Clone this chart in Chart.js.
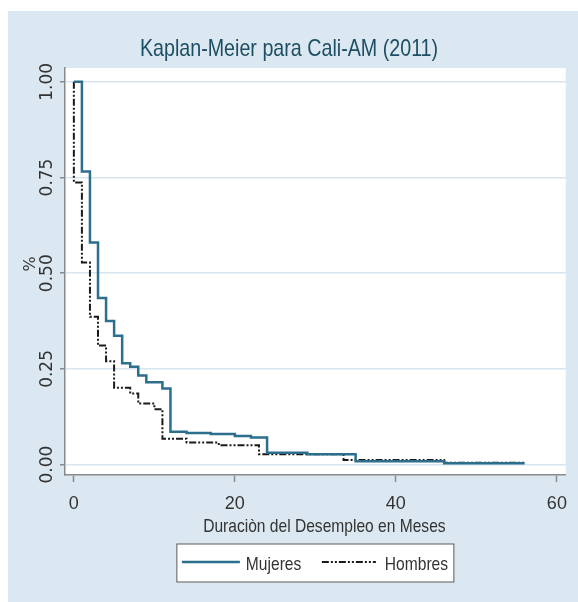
<!DOCTYPE html>
<html>
<head>
<meta charset="utf-8">
<script src="https://cdn.jsdelivr.net/npm/chart.js@4.4.1/dist/chart.umd.min.js"></script>
<style>
  html, body { margin: 0; padding: 0; background: #fff; }
  #marco { position: absolute; left: 8px; top: 11px; width: 570px; height: 591px; background: #dce8f1; }
</style>
</head>
<body>
<div id="marco"><canvas id="km" width="570" height="591"></canvas></div>
<script>
// datos (Kaplan-Meier, Cali-AM 2011)
const titulo = 'Kaplan-Meier para Cali-AM (2011)';
const tituloX = 'Duraciòn del Desempleo en Meses';
const tituloY = '%';

const mujeresMeses  = [0, 1, 2, 3, 4, 5, 6, 7, 8, 9, 11, 12, 14, 17, 20, 22, 24, 29, 35, 46, 56];
const mujeresSuperv = [1.000, 0.766, 0.580, 0.435, 0.375, 0.337, 0.265, 0.256, 0.233, 0.215, 0.199,
                       0.086, 0.083, 0.080, 0.075, 0.071, 0.031, 0.027, 0.009, 0.004, 0.004];

const hombresMeses  = [0, 0, 1, 2, 3, 4, 5, 7, 8, 10, 11, 14, 18, 23, 33.5, 46, 56];
const hombresSuperv = [1.000, 0.737, 0.528, 0.386, 0.311, 0.270, 0.201, 0.186, 0.160, 0.145,
                       0.068, 0.058, 0.051, 0.027, 0.012, 0.005, 0.005];

const xTicks = [0, 20, 40, 60];
const yTicks = [0, 0.25, 0.5, 0.75, 1];
const yTickLabels = ['0.00', '0.25', '0.50', '0.75', '1.00'];

// fuente angosta si esta instalada; si no, se estrecha la normal
function hayFuente(nombre) {
    const c = document.createElement('canvas').getContext('2d');
    c.font = '40px monospace';
    const a = c.measureText('Kaplan-Meier 2011').width;
    c.font = '40px "' + nombre + '", monospace';
    const b = c.measureText('Kaplan-Meier 2011').width;
    return a !== b;
}
const angosta = hayFuente('Liberation Sans Narrow');
const fam = angosta ? '"Liberation Sans Narrow"' : '"Liberation Sans"';
const k = angosta ? 1 : 0.82;

function puntos(xs, ys) {
    return xs.map((x, i) => ({x: x, y: ys[i]}));
}

function texto(ctx, txt, x, y, size, align) {
    ctx.save();
    ctx.translate(x, y);
    ctx.scale(k, 1);
    ctx.font = size + 'px ' + fam;
    ctx.textAlign = align;
    ctx.textBaseline = 'middle';
    ctx.fillText(txt, 0, 0);
    ctx.restore();
}

/*=====================================
   titulo, etiquetas y leyenda a mano
======================================*/
const extras = {
    id: 'extras',
    beforeDraw(chart) {
        const {ctx, chartArea: a} = chart;
        ctx.save();
        ctx.fillStyle = '#ffffff';
        ctx.fillRect(a.left, a.top, a.right - a.left, a.bottom - a.top);
        ctx.restore();
    },
    afterDraw(chart) {
        const {ctx, chartArea: a} = chart;
        const y = chart.scales.y;
        const cx = (a.left + a.right) / 2;
        ctx.save();

        // titulo
        ctx.fillStyle = '#1d4e63';
        texto(ctx, titulo, 281, 38, 24, 'center');

        // etiquetas del eje Y giradas
        ctx.fillStyle = '#333';
        ctx.textAlign = 'center';
        ctx.textBaseline = 'middle';
        ctx.font = '17px "DejaVu Sans"';
        yTicks.forEach((v, i) => {
            ctx.save();
            ctx.translate(40, y.getPixelForValue(v));
            ctx.rotate(-Math.PI / 2);
            ctx.fillText(yTickLabels[i], 0, 0);
            ctx.restore();
        });
        ctx.save();
        ctx.font = '16px "DejaVu Sans"';
        ctx.translate(23, 253);
        ctx.rotate(-Math.PI / 2);
        ctx.fillText(tituloY, 0, 0);
        ctx.restore();

        // titulo del eje X
        texto(ctx, tituloX, cx + 9, a.bottom + 52, 19, 'center');

        // leyenda
        const top = a.bottom + 69;
        ctx.fillStyle = '#ffffff';
        ctx.fillRect(cx - 138.5, top, 277, 38);
        ctx.strokeStyle = '#5a5a5a';
        ctx.lineWidth = 1;
        ctx.strokeRect(cx - 138.5, top, 277, 38);
        const ly = top + 19;
        const items = [
            {ds: chart.data.datasets[0], x0: cx - 133.5, x1: cx - 75.5, tx: cx - 69.5},
            {ds: chart.data.datasets[1], x0: cx + 6.5, x1: cx + 60.5, tx: cx + 69.5}
        ];
        items.forEach(it => {
            ctx.strokeStyle = it.ds.borderColor;
            ctx.lineWidth = it.ds.borderWidth;
            ctx.setLineDash(it.ds.borderDash || []);
            ctx.beginPath();
            ctx.moveTo(it.x0, ly - 1);
            ctx.lineTo(it.x1, ly - 1);
            ctx.stroke();
            ctx.setLineDash([]);
            ctx.fillStyle = '#333';
            texto(ctx, it.ds.label, it.tx, ly + 2, 19, 'left');
        });
        ctx.restore();
    }
};

new Chart(document.getElementById('km'), {
    type: 'line',
    data: {
        datasets: [{
            label: 'Mujeres',
            data: puntos(mujeresMeses, mujeresSuperv),
            stepped: 'before',
            borderColor: '#2b6f8c',
            borderWidth: 2.5,
            pointRadius: 0,
            fill: false
        }, {
            label: 'Hombres',
            data: puntos(hombresMeses, hombresSuperv),
            stepped: 'before',
            borderColor: '#1a1a1a',
            borderWidth: 2,
            borderDash: [7, 2, 2, 2, 2, 2],
            pointRadius: 0,
            fill: false
        }]
    },
    options: {
        responsive: false,
        animation: false,
        layout: { padding: { top: 57, left: 52, right: 6, bottom: 75 } },
        plugins: { legend: { display: false }, title: { display: false }, tooltip: { enabled: false } },
        scales: {
            x: {
                type: 'linear',
                min: -1.1,
                max: 61.1,
                afterBuildTicks: s => { s.ticks = xTicks.map(v => ({value: v})); },
                grid: { drawOnChartArea: false, tickLength: 7, tickColor: '#8a8a8a', tickWidth: 1.5 },
                border: { color: '#8a8a8a', width: 1.5 },
                ticks: { padding: 11, color: '#333', maxRotation: 0, font: { family: fam, size: 18, lineHeight: '23px' } }
            },
            y: {
                type: 'linear',
                min: -0.027,
                max: 1.036,
                afterBuildTicks: s => { s.ticks = yTicks.map(v => ({value: v})); },
                grid: { color: '#d6e5ef', lineWidth: 1.5, tickLength: 5, tickColor: '#8a8a8a', tickWidth: 1.5 },
                border: { color: '#8a8a8a', width: 1.5 },
                ticks: { display: false }
            }
        }
    },
    plugins: [extras]
});
</script>
</body>
</html>
